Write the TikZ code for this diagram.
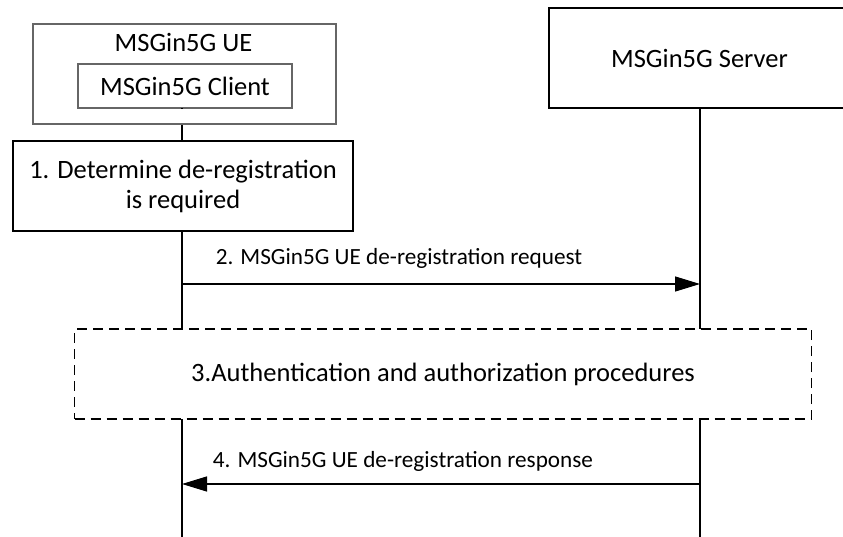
\documentclass[tikz,border=0pt]{standalone}
\usepackage{fontspec}
\setmainfont{Carlito}
\usetikzlibrary{arrows.meta}
\begin{document}
\begin{tikzpicture}[x=1pt,y=-1pt,
  box/.style={draw, inner sep=0pt, anchor=center, fill=white, align=center},
  thinbox/.style={box, draw=black!60, line width=1.3pt},
  stepbox/.style={box, draw=black, line width=2pt},
  srvbox/.style={box, draw=black, line width=1.4pt},
  dashbox/.style={box, draw=black, line width=1.5pt, dash pattern=on 10pt off 6pt},
  life/.style={line width=1.3pt},
  msg/.style={line width=1.3pt, -{Triangle[length=25pt,width=15pt]}},
  lbl/.style={font=\fontsize{23.2}{28}\selectfont, inner sep=0pt, anchor=base},
  big/.style={font=\fontsize{26.5}{30}\selectfont}]
\useasboundingbox (0,0) rectangle (843,537);
\clip (0,0) rectangle (843,537);
% lifelines
\coordinate (ueL) at (182,537);
\coordinate (svL) at (700,537);
\coordinate (ueT) at (182,108);
\coordinate (svT) at (700,108);
\draw[life] (ueT) -- (ueL);
\draw[life] (svT) -- (svL);
% UE
\node[thinbox, minimum width=303pt, minimum height=100pt] (ue) at (184.5,74) {};
\node[big, inner sep=0pt, anchor=base] (uelbl) at (183.5,52) {MSGin5G UE};
\node[thinbox, big, minimum width=214pt, minimum height=44pt] (client) at (185,86) {MSGin5G Client};
\draw[life] (ueT) -- (ueT |- client.south);
% server
\node[srvbox, big, minimum width=301pt, minimum height=100pt] (server) at (699.5,58) {MSGin5G Server};
% step 1
\node[stepbox, big, minimum width=340pt, minimum height=90pt] (step) at (183,186) {1. Determine de-registration\\is required};
% step 2
\coordinate (y2) at (0,284);
\draw[msg] (ueL |- y2) coordinate (a2s) -- (svL |- y2) coordinate (a2e);
\node[lbl] (l2) at (399,265) {2. MSGin5G UE de-registration request};
% step 3
\node[dashbox, big, minimum width=737pt, minimum height=90pt] (auth) at (443,374) {3.Authentication and authorization procedures};
% step 4
\coordinate (y4) at (0,484);
\draw[msg] (svL |- y4) coordinate (a4s) -- (ueL |- y4) coordinate (a4e);
\node[lbl] (l4) at (403,467) {4. MSGin5G UE de-registration response};
\end{tikzpicture}
\end{document}
